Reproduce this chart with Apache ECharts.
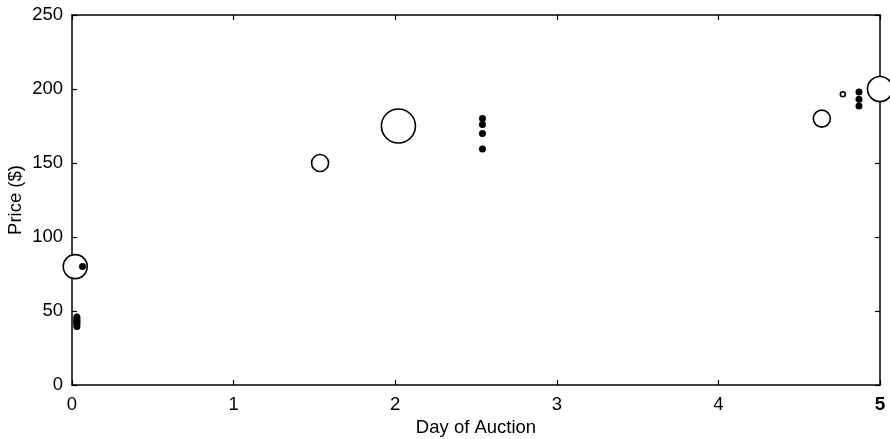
<!DOCTYPE html>
<html>
<head>
<meta charset="utf-8">
<script src="https://cdn.jsdelivr.net/npm/echarts@6/dist/echarts.min.js"></script>
<style>
html,body{margin:0;padding:0;background:#fff;}
#chart{width:890px;height:439px;}
</style>
</head>
<body>
<div id="chart"></div>
<script>
// Open circles (bids): day, price, bubble diameter
const bidDay   = [0.02, 1.535, 2.02, 4.64, 4.77, 5.0];
const bidPrice = [80, 150, 175, 180, 196.5, 200];
const bidSize  = [24, 17, 34, 17, 5, 25];

// Filled dots
const dotDay   = [0.065, 0.03, 0.03, 0.03, 0.03, 0.03, 0.03, 0.03, 2.54, 2.54, 2.54, 2.54, 4.87, 4.87, 4.87];
const dotPrice = [80, 39.5, 41, 42, 43, 44, 45, 46, 180, 176, 170, 159.5, 198, 193, 188.5];

const xTicks = [0, 1, 2, 3, 4, 5];
const yTicks = [0, 50, 100, 150, 200, 250];

const FONT = 'Liberation Sans, Arial, Helvetica, sans-serif';
const FS = 18.5;
const chart = echarts.init(document.getElementById('chart'));

const bidData = bidDay.map((d, i) => [d, bidPrice[i], bidSize[i]]);
const dotData = dotDay.map((d, i) => [d, dotPrice[i]]);

const axisLine = {show: true, onZero: false, lineStyle: {color: '#000', width: 1.5}};
const axisTick = {show: true, inside: true, length: 5, lineStyle: {color: '#000', width: 1.2}};

chart.setOption({
  animation: false,
  backgroundColor: '#fff',
  grid: {left: 72, right: 10, top: 15, bottom: 54, containLabel: false, outerBoundsMode: 'none'},
  xAxis: [{
    type: 'value', min: xTicks[0], max: xTicks[xTicks.length - 1], interval: 1,
    position: 'bottom',
    name: 'Day of Auction', nameLocation: 'middle', nameGap: 31,
    nameTextStyle: {fontFamily: FONT, fontSize: FS, color: '#000'},
    axisLine: axisLine, axisTick: axisTick, splitLine: {show: false},
    axisLabel: {
      fontFamily: FONT, fontSize: FS, color: '#000', margin: 10,
      formatter: function (v) { return v === 5 ? '{b|' + v + '}' : String(v); },
      rich: {b: {fontFamily: FONT, fontSize: 19, fontWeight: 'bold', color: '#000'}}
    }
  }, {
    type: 'value', min: xTicks[0], max: xTicks[xTicks.length - 1], interval: 1,
    position: 'top',
    axisLine: axisLine, axisTick: axisTick, splitLine: {show: false},
    axisLabel: {show: false}
  }],
  yAxis: [{
    type: 'value', min: yTicks[0], max: yTicks[yTicks.length - 1], interval: 50,
    position: 'left',
    name: 'Price ($)', nameLocation: 'middle', nameGap: 47, nameRotate: 90,
    nameMoveOverlap: false,
    nameTextStyle: {fontFamily: FONT, fontSize: FS, color: '#000'},
    axisLine: axisLine, axisTick: axisTick, splitLine: {show: false},
    axisLabel: {fontFamily: FONT, fontSize: FS, color: '#000', margin: 9}
  }, {
    type: 'value', min: yTicks[0], max: yTicks[yTicks.length - 1], interval: 50,
    position: 'right',
    axisLine: axisLine, axisTick: axisTick, splitLine: {show: false},
    axisLabel: {show: false}
  }],
  series: [{
    type: 'scatter',
    data: bidData,
    clip: false,
    z: 5,
    symbol: 'circle',
    symbolSize: function (v) { return v[2]; },
    itemStyle: {color: '#fff', borderColor: '#000', borderWidth: 1.6, opacity: 1}
  }, {
    type: 'scatter',
    data: dotData,
    clip: false,
    z: 6,
    symbol: 'circle',
    symbolSize: 7,
    itemStyle: {color: '#000', opacity: 1}
  }]
});
</script>
</body>
</html>
